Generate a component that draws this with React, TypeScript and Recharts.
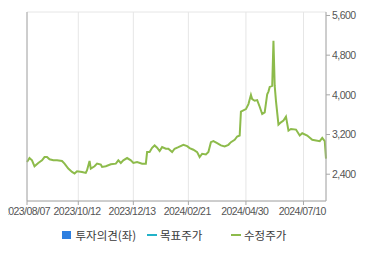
import { ComposedChart, Line, Bar, XAxis, YAxis, CartesianGrid } from "recharts";

// trading-day index (0 = 2023/08/07) and adjusted close
const tradingDay = [
  0, 2, 4, 6, 9, 12, 14, 16, 18, 21, 24, 28, 30, 33, 36, 38, 40, 44, 47, 48,
  50, 51, 54, 56, 59, 60, 63, 67, 71, 73, 75, 77, 80, 83, 85, 88, 92, 95, 96, 98,
  100, 102, 104, 106, 108, 111, 113, 116, 118, 121, 125, 128, 130, 133, 136, 138, 140, 143, 145, 147,
  149, 152, 155, 158, 161, 163, 166, 168, 170, 171, 175, 177, 179, 180, 182, 184, 186, 188, 190, 192,
  193, 194, 196, 197, 198, 199, 201, 203, 205, 207, 209, 211, 215, 218, 220, 224, 228, 234, 236, 238,
  239,
];
const adjPrice = [
  2646, 2726, 2680, 2560, 2626, 2680, 2746, 2746, 2700, 2680, 2680, 2666, 2613, 2513, 2446, 2413, 2460, 2446, 2426, 2480,
  2666, 2513, 2560, 2613, 2593, 2546, 2560, 2600, 2613, 2680, 2626, 2680, 2726, 2680, 2626, 2646, 2613, 2613, 2846, 2846,
  2933, 2980, 2933, 2866, 2946, 2913, 2913, 2846, 2913, 2946, 2993, 2966, 2926, 2893, 2846, 2746, 2813, 2800, 2846, 3046,
  3066, 3026, 2980, 2960, 2993, 3046, 3093, 3160, 3180, 3660, 3713, 3813, 4000, 3913, 3880, 3893, 3760, 3613, 3646, 4013,
  4066, 4160, 4180, 5090, 4180, 3880, 3400, 3446, 3480, 3560, 3280, 3313, 3300, 3180, 3226, 3180, 3093, 3066, 3133, 3066,
  2713,
];

const tickDays = [0, 41, 85, 129, 175, 221];
const tickLabels = ["2023/08/07", "2023/10/12", "2023/12/13", "2024/02/21", "2024/04/30", "2024/07/10"];
const priceTicks = [2400, 3200, 4000, 4800, 5600];
const opinionTicks = [0];

const legendItems = [
  { key: "opinion", label: "투자의견(좌)", color: "#2e7fe0", shape: "square", left: 62 },
  { key: "target", label: "목표주가", color: "#22b2c8", shape: "line", left: 146.5 },
  { key: "price", label: "수정주가", color: "#8dbb4b", shape: "line", left: 230.5 },
];

const data = tradingDay.map((day, i) => ({ day, price: adjPrice[i], opinion: null, target: null }));

const axisFont = "'Liberation Sans', Arial, sans-serif";
const axisText = { fontSize: 10.5, fontFamily: axisFont, fill: "#555", letterSpacing: -0.55 };

const DateTick = (props: any) => {
  const { x, y, index } = props;
  const label = tickLabels[index];
  if (index === 0) {
    return (
      <g>
        <defs>
          <clipPath id="firstDateClip">
            <rect x={8} y={y - 2} width={80} height={20} />
          </clipPath>
        </defs>
        <text x={x + 23} y={y} dy="0.75em" textAnchor="end" {...axisText} clipPath="url(#firstDateClip)">
          {label}
        </text>
      </g>
    );
  }
  return (
    <text x={x - 1.2} y={y} dy="0.75em" textAnchor="middle" {...axisText}>
      {label}
    </text>
  );
};

const App = () => (
  <div style={{ position: "absolute", left: 0, top: 0, width: 370, height: 255, background: "#fff" }}>
    <ComposedChart width={370} height={255} data={data} margin={{ top: 12, right: 0, bottom: 34, left: 0 }}>
      <CartesianGrid yAxisId="left" stroke="#e6e6e6" />
      <XAxis
        dataKey="day"
        type="number"
        domain={[0, 239]}
        ticks={tickDays}
        tick={<DateTick />}
        interval={0}
        height={20}
        tickSize={4}
        tickMargin={2}
        axisLine={{ stroke: "#a8a8a8" }}
        tickLine={{ stroke: "#a8a8a8" }}
      />
      <XAxis xAxisId="top" orientation="top" height={0} tick={false} tickLine={false} axisLine={{ stroke: "#a8a8a8" }} />
      <YAxis
        yAxisId="left"
        orientation="left"
        width={27}
        domain={[-1, 1]}
        ticks={opinionTicks}
        tickSize={4}
        tickMargin={4}
        axisLine={{ stroke: "#a8a8a8" }}
        tickLine={{ stroke: "#a8a8a8" }}
        tick={axisText}
      />
      <YAxis
        yAxisId="right"
        orientation="right"
        width={44}
        domain={[1860, 5670]}
        ticks={priceTicks}
        tickFormatter={(v: number) => v.toLocaleString("en-US")}
        tickSize={4}
        tickMargin={2}
        axisLine={{ stroke: "#a8a8a8" }}
        tickLine={{ stroke: "#a8a8a8" }}
        tick={axisText}
      />
      <Bar yAxisId="left" dataKey="opinion" fill="#2e7fe0" barSize={4} isAnimationActive={false} />
      <Line yAxisId="right" dataKey="target" stroke="#22b2c8" strokeWidth={2} dot={false} isAnimationActive={false} />
      <Line
        yAxisId="right"
        dataKey="price"
        type="linear"
        stroke="#8dbb4b"
        strokeWidth={2}
        dot={false}
        activeDot={false}
        isAnimationActive={false}
      />
    </ComposedChart>
    {legendItems.map((item) => (
      <div
        key={item.key}
        style={{
          position: "absolute",
          left: item.left,
          top: 228,
          height: 14,
          display: "flex",
          alignItems: "center",
          fontFamily: "'Noto Sans CJK KR', sans-serif",
          fontSize: 11.5,
          color: "#3a3a3a",
          whiteSpace: "nowrap",
        }}
      >
        {item.shape === "square" ? (
          <span style={{ display: "inline-block", width: 8.5, height: 8, background: item.color, marginRight: 5 }} />
        ) : (
          <span style={{ display: "inline-block", width: 10, height: 2.5, background: item.color, marginRight: 3.5 }} />
        )}
        <span>{item.label}</span>
      </div>
    ))}
  </div>
);

export default App;
